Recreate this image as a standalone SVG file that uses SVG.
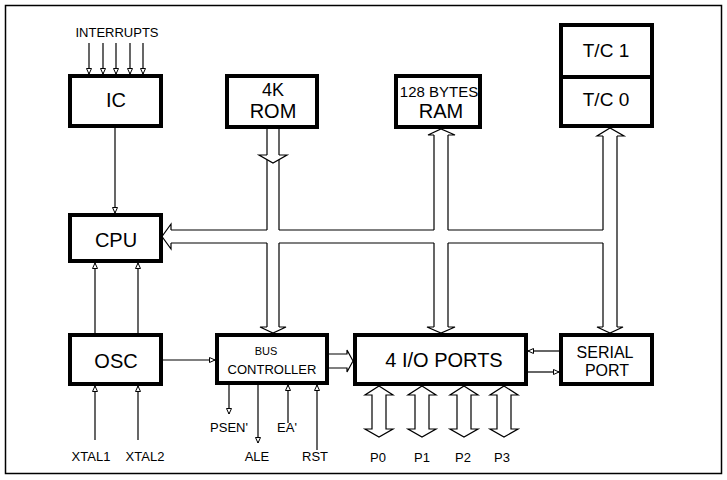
<svg xmlns="http://www.w3.org/2000/svg" width="727" height="480" viewBox="0 0 727 480">
<defs>
<marker id="ah" markerUnits="userSpaceOnUse" markerWidth="6" markerHeight="6" viewBox="0 0 6 6" refX="6" refY="3" orient="auto">
<path d="M0.5,0.5 L6,3 L0.5,5.5 Z" fill="#fff" stroke="#000" stroke-width="1"/>
</marker>
<style>
.box{fill:#fff;stroke:#000;stroke-width:4}
.t{font-family:"Liberation Sans",Arial,sans-serif;fill:#000;text-anchor:middle}
.big{font-size:20px}
.sm{font-size:13px}
.ln{fill:none;stroke:#000;stroke-width:1.2}
.ar{fill:none;stroke:#000;stroke-width:1.2;marker-end:url(#ah)}
.bh{fill:#fff;stroke:#000;stroke-width:1.2;stroke-linejoin:miter}
</style>
</defs>
<rect x="5.5" y="5.5" width="716" height="468" fill="#fff" stroke="#000" stroke-width="1.5"/>

<g id="connectors">
<!-- interrupts -->
<path class="ar" d="M89,43 V74"/>
<path class="ar" d="M103,43 V74"/>
<path class="ar" d="M116,43 V74"/>
<path class="ar" d="M130,43 V74"/>
<path class="ar" d="M143,43 V74"/>
<!-- IC to CPU -->
<path class="ar" d="M115,128 V213"/>
<!-- OSC to CPU -->
<path class="ar" d="M95,333 V263"/>
<path class="ar" d="M138,333 V263"/>
<!-- XTAL -->
<path class="ar" d="M95,440 V386"/>
<path class="ar" d="M138,440 V386"/>
<!-- OSC to BC -->
<path class="ar" d="M163,360 H215"/>
<!-- BC signals -->
<path class="ar" d="M229,385 V414"/>
<path class="ar" d="M258,385 V443"/>
<path class="ar" d="M288,423 V385"/>
<path class="ar" d="M317,450 V385"/>
<!-- serial / IO -->
<path class="ar" d="M559,351 H528"/>
<path class="ar" d="M528,372 H559"/>
<!-- bus -->
<path class="ln" d="M267,129 V230 M279,129 V230 M434,135 V230 M448,135 V230 M603,136 V230 M617,136 V327
M267,243 V327 M279,243 V327 M434,243 V327 M448,243 V327 M603,243 V327
M171,230 H267 M279,230 H434 M448,230 H603
M171,243 H267 M279,243 H434 M448,243 H603"/>
<path class="bh" d="M171,230 V224 L162,236.5 L171,249 V243"/>
<path class="bh" d="M267,155 H259 L273,163 L287,155 H279"/>
<path class="bh" d="M267,327 H260 L273,333 L286,327 H279"/>
<path class="bh" d="M434,135 H428 L441,129 L455,135 H448"/>
<path class="bh" d="M434,327 H427 L441,333 L455,327 H448"/>
<path class="bh" d="M603,136 H597 L610,128 L624,136 H617"/>
<path class="bh" d="M603,327 H597 L610,333 L623,327 H617"/>
<path class="bh" d="M329,354 H347 V350 L353,361 L347,372 V368 H329"/>
<!-- port arrows -->
<path class="bh" d="M379,386 L393,395 H386 V429 H393 L379,437 L365,429 H372 V395 H365 Z"/>
<path class="bh" d="M422,386 L436,395 H429 V429 H436 L422,437 L408,429 H415 V395 H408 Z"/>
<path class="bh" d="M464,386 L478,395 H471 V429 H478 L464,437 L450,429 H457 V395 H450 Z"/>
<path class="bh" d="M504,386 L518,395 H511 V429 H518 L504,437 L490,429 H497 V395 H490 Z"/>
</g>

<g id="ic"><rect class="box" x="70" y="76" width="91" height="50"/><text class="t big" x="116" y="107">IC</text></g>
<g id="rom"><rect class="box" x="227" y="76" width="90" height="51"/><text class="t" style="font-size:18px" x="273" y="96">4K</text><text class="t big" x="273" y="118">ROM</text></g>
<g id="ram"><rect class="box" x="396" y="76" width="84" height="51"/><text class="t" style="font-size:15px" x="439" y="97">128 BYTES</text><text class="t big" x="441" y="118">RAM</text></g>
<g id="tc"><rect class="box" x="561" y="25" width="91" height="101"/><line x1="561" y1="77" x2="652" y2="77" stroke="#000" stroke-width="4"/><text class="t" style="font-size:19px" x="606" y="57">T/C 1</text><text class="t" style="font-size:19px" x="606" y="106">T/C 0</text></g>
<g id="cpu"><rect class="box" x="70" y="215" width="91" height="46"/><text class="t big" x="116" y="247">CPU</text></g>
<g id="osc"><rect class="box" x="70" y="335" width="91" height="49"/><text class="t big" x="116" y="368">OSC</text></g>
<g id="bus"><rect class="box" x="217" y="335" width="110" height="48"/><text class="t" style="font-size:11px" x="266" y="355">BUS</text><text class="t sm" x="272" y="374">CONTROLLER</text></g>
<g id="io"><rect class="box" x="355" y="335" width="171" height="49"/><text class="t big" x="444" y="367">4 I/O PORTS</text></g>
<g id="serial"><rect class="box" x="561" y="335" width="91" height="49"/><text class="t" style="font-size:16px" x="605" y="358">SERIAL</text><text class="t" style="font-size:16px" x="607" y="376">PORT</text></g>

<g id="labels">
<text class="t sm" x="117" y="37">INTERRUPTS</text>
<text class="t sm" x="91" y="461">XTAL1</text>
<text class="t sm" x="145" y="461">XTAL2</text>
<text class="t sm" x="229" y="432">PSEN'</text>
<text class="t sm" x="287" y="432">EA'</text>
<text class="t sm" x="257" y="461">ALE</text>
<text class="t sm" x="315" y="461">RST</text>
<text class="t sm" x="378" y="462">P0</text>
<text class="t sm" x="422" y="462">P1</text>
<text class="t sm" x="463" y="462">P2</text>
<text class="t sm" x="502" y="462">P3</text>
</g>
</svg>
